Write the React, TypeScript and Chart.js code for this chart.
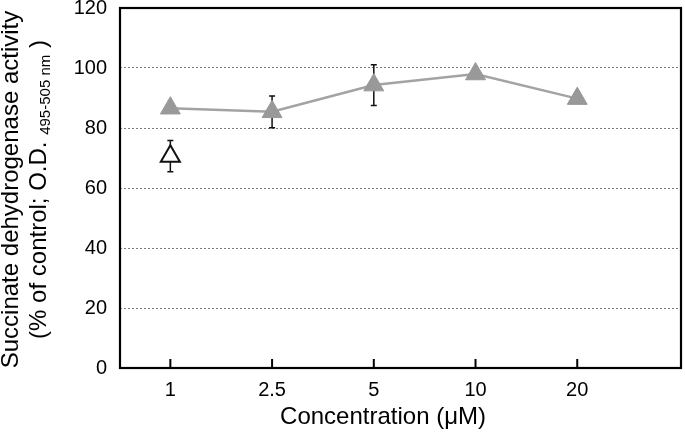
import React, { useEffect, useRef } from "react";
import { Chart, registerables } from "chart.js";

Chart.register(...registerables);

// ---- Data ----
const categories = ["1", "2.5", "5", "10", "20"];
const meanActivity = [86.6, 85.4, 94.3, 98.0, 89.8];
const errActivity = [0, 5.3, 6.8, 0, 0];
const refCategoryIndex = [0];
const refActivity = [70.6];
const refError = [5.2];
const yTickValues = [0, 20, 40, 60, 80, 100, 120];

const xTitle = "Concentration (\u03bcM)";
const yTitleLine1 = "Succinate dehydrogenase activity";
const yTitleLine2 = ["(% of control; O.D. ", "495-505 nm", " )"];

const FONT = '"Liberation Sans", Arial, Helvetica, sans-serif';

const framePlugin = {
  id: "frame",
  beforeDatasetsDraw(chart: any) {
    const { ctx } = chart;
    const xs = chart.scales.x;
    const ys = chart.scales.y;
    ctx.save();
    ctx.strokeStyle = "#111";
    ctx.lineWidth = 1.5;
    const drawErr = (xi: number, v: number, e: number) => {
      if (!e) return;
      const px = xs.getPixelForValue(xi);
      const top = ys.getPixelForValue(v + e);
      const bot = ys.getPixelForValue(v - e);
      ctx.beginPath();
      ctx.moveTo(px, top);
      ctx.lineTo(px, bot);
      ctx.moveTo(px - 3, top);
      ctx.lineTo(px + 3, top);
      ctx.moveTo(px - 3, bot);
      ctx.lineTo(px + 3, bot);
      ctx.stroke();
    };
    meanActivity.forEach((v, i) => drawErr(i, v, errActivity[i]));
    refActivity.forEach((v, i) => drawErr(refCategoryIndex[i], v, refError[i]));
    ctx.restore();
  },
  afterDraw(chart: any) {
    const { ctx, chartArea } = chart;
    const xs = chart.scales.x;
    ctx.save();
    ctx.strokeStyle = "#000";
    ctx.lineWidth = 2.2;
    ctx.strokeRect(chartArea.left, chartArea.top, chartArea.right - chartArea.left, chartArea.bottom - chartArea.top);
    ctx.lineWidth = 2;
    categories.forEach((_, i) => {
      const px = xs.getPixelForValue(i);
      ctx.beginPath();
      ctx.moveTo(px, chartArea.bottom);
      ctx.lineTo(px, chartArea.bottom - 9);
      ctx.stroke();
    });
    // titles
    ctx.fillStyle = "#000";
    ctx.font = `24px ${FONT}`;
    ctx.textAlign = "center";
    ctx.textBaseline = "middle";
    ctx.fillText(xTitle, 383, 417);

    ctx.translate(0, 189.5);
    ctx.rotate(-Math.PI / 2);
    ctx.textBaseline = "alphabetic";
    ctx.textAlign = "center";
    ctx.font = `24px ${FONT}`;
    ctx.fillText(yTitleLine1, 0, 18);
    ctx.textAlign = "left";
    const mainFont = `24px ${FONT}`;
    const subFont = `15px ${FONT}`;
    ctx.font = mainFont;
    const w1 = ctx.measureText(yTitleLine2[0]).width;
    const w3 = ctx.measureText(yTitleLine2[2]).width;
    ctx.font = subFont;
    const w2 = ctx.measureText(yTitleLine2[1]).width;
    let sx = -(w1 + w2 + w3) / 2;
    ctx.font = mainFont;
    ctx.fillText(yTitleLine2[0], sx, 46);
    sx += w1;
    ctx.font = subFont;
    ctx.fillText(yTitleLine2[1], sx, 50);
    sx += w2;
    ctx.font = mainFont;
    ctx.fillText(yTitleLine2[2], sx, 46);
    ctx.restore();
  },
};

export default function App() {
  const ref = useRef<HTMLCanvasElement>(null);
  useEffect(() => {
    if (!ref.current) return;
    const chart = new Chart(ref.current, {
      type: "line",
      data: {
        datasets: [
          {
            data: meanActivity.map((v, i) => ({ x: i, y: v })),
            borderColor: "#a3a3a3",
            borderWidth: 2.5,
            pointStyle: "triangle",
            pointRadius: 11.5,
            pointBackgroundColor: "#999999",
            pointBorderColor: "#999999",
            pointBorderWidth: 1,
            tension: 0,
          },
          {
            data: refActivity.map((v, i) => ({ x: refCategoryIndex[i], y: v })),
            showLine: false,
            pointStyle: "triangle",
            pointRadius: 11,
            pointBackgroundColor: "#ffffff",
            pointBorderColor: "#111111",
            pointBorderWidth: 2,
          },
        ],
      },
      options: {
        responsive: false,
        animation: false,
        layout: { autoPadding: false, padding: { top: 8, right: 4, left: 0, bottom: 0 } },
        plugins: { legend: { display: false }, tooltip: { enabled: false } },
        scales: {
          x: {
            type: "linear",
            min: -0.495,
            max: 5.02,
            afterBuildTicks: (s: any) => {
              s.ticks = categories.map((_, i) => ({ value: i }));
            },
            afterFit: (s: any) => {
              s.height = 77;
              s.paddingLeft = 0;
              s.paddingRight = 0;
            },
            ticks: {
              autoSkip: false,
              maxRotation: 0,
              padding: 10,
              color: "#000",
              font: { family: FONT, size: 20 },
              callback: (v: any) => categories[Number(v)] ?? null,
            },
            grid: { display: false, drawTicks: false },
            border: { display: false },
          },
          y: {
            min: 0,
            max: 120,
            afterBuildTicks: (s: any) => {
              s.ticks = yTickValues.map((v) => ({ value: v }));
            },
            afterFit: (s: any) => {
              s.width = 120;
              s.paddingTop = 0;
              s.paddingBottom = 0;
            },
            ticks: {
              padding: 13,
              color: "#000",
              font: { family: FONT, size: 20 },
            },
            grid: {
              drawTicks: false,
              lineWidth: 1,
              color: (c: any) =>
                c.tick && (c.tick.value === 0 || c.tick.value === 120) ? "rgba(0,0,0,0)" : "#7a7a7a",
            },
            border: { display: false, dash: [2, 2] },
          },
        },
      },
      plugins: [framePlugin],
    } as any);
    return () => chart.destroy();
  }, []);
  return (
    <div style={{ position: "fixed", left: 0, top: 0, width: 685, height: 445, background: "#fff" }}>
      <canvas ref={ref} width={685} height={445} style={{ display: "block" }} />
    </div>
  );
}
